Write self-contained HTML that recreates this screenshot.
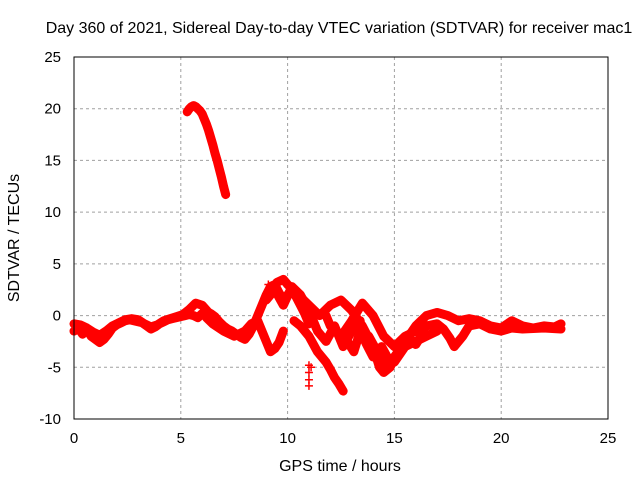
<!DOCTYPE html>
<html><head><meta charset="utf-8"><style>
body{margin:0;background:#fff}
svg{display:block;font-family:"Liberation Sans",sans-serif;font-size:15px}
</style></head><body>
<svg id="chart" width="640" height="480">
<rect width="640" height="480" fill="#fff"/>
<text x="339" y="33" text-anchor="middle" style="font-size:16px">Day 360 of 2021, Sidereal Day-to-day VTEC variation (SDTVAR) for receiver mac1</text>
<g id="grid"></g>
<g id="axes"></g>
<g id="marks"></g>
<rect x="74" y="57" width="534" height="362" fill="none" stroke="#000"/>
<text x="340" y="471" text-anchor="middle" style="font-size:16px">GPS time / hours</text>
<text transform="translate(19,238) rotate(-90)" text-anchor="middle" style="font-size:16px">SDTVAR / TECUs</text>
</svg>
<script>
const xTicks=[0,5,10,15,20,25];
const yTicks=[25,20,15,10,5,0,-5,-10];
const arcX=[5.3,5.4,5.5,5.6,5.7,5.8,5.9,6.0,6.1,6.2,6.3,6.4,6.5,6.6,6.7,6.8,6.9,7.0,7.1];
const arcY=[19.7,20.0,20.2,20.3,20.2,20.0,19.8,19.5,19.0,18.5,17.9,17.2,16.5,15.7,15.0,14.2,13.4,12.5,11.7];
const t1X=[0,0.2,0.4,0.6,0.8,1,1.2,1.4,1.6,1.8,2,2.2,2.4,2.6,2.8,3,3.2,3.4,3.6,3.8,4,4.2,4.4,4.6,4.8,5,5.2,5.4,5.6,5.8,6,6.2,6.4,6.6,6.8,7,7.2,7.4,7.6,7.8,8,8.2,8.4,8.6,8.8,9,9.2,9.4,9.6,9.8,10,10.2,10.4,10.6,10.8,11];
const t1Y=[-1.5,-1.2,-1.8,-1.3,-2,-2.3,-2.6,-2.3,-1.8,-1.2,-0.9,-0.7,-0.5,-0.4,-0.5,-0.6,-0.7,-1,-1.3,-1.1,-0.8,-0.6,-0.4,-0.3,-0.2,-0.1,0,0.1,0,-0.2,0.2,0.4,0.2,-0.1,-0.6,-1,-1.3,-1.5,-1.8,-2.1,-2.3,-1.8,-1,0,1,2,2.8,3,2.2,1.5,2,2.5,1.8,1,0.2,-0.8];
const t1bX=[0,0.3,0.6,0.9,1.2,1.5,1.8,2.1,2.4,2.7,3,3.3,3.6,3.9,4.2,4.5,4.8,5.1,5.4,5.7,6,6.3];
const t1bY=[-0.8,-0.9,-1.2,-1.6,-1.9,-1.5,-1,-0.7,-0.4,-0.3,-0.4,-0.8,-1.1,-0.9,-0.5,-0.3,-0.1,0.1,0.6,1.2,1.0,0.3];
const t2X=[6.2,6.5,7,7.5,8,8.3,8.6,9,9.2,9.4,9.6,9.8];
const t2Y=[-0.2,-0.8,-1.5,-2,-1.5,-0.8,-0.5,-2.5,-3.5,-3.2,-2.6,-1.5];
const t3X=[9.5,9.8,10,10.5,11,11.5,12,12.5,13,13.5,14,14.3,14.5,14.8,15,15.5,16,16.5,17,17.5,18,18.5,19,19.5,20,20.5,21,21.5,22,22.5,22.8];
const t3Y=[3.2,3.5,3,2,1,0,1,1.5,0.5,-1,-3,-5,-5.5,-5,-4,-2.5,-1,0,0.3,0,-0.5,-0.3,-0.5,-1,-1.2,-0.5,-1,-1.2,-1,-1.1,-0.8];
const t4X=[10.3,10.6,11,11.4,11.8,12,12.2,12.4,12.6];
const t4Y=[-0.5,-1,-2,-3.5,-4.5,-5.2,-6,-6.6,-7.3];
const t5X=[11.8,12,12.5,13,13.5,14,14.5,15,15.5,16,16.5,17,17.3,17.6,17.8,18.2,18.5,19,19.5,20,20.5,21,22,22.8];
const t5Y=[0,-1,-2,-0.5,1.2,0,-2,-3,-2,-1.5,-1,-0.8,-1.3,-2.2,-3,-2,-1,-0.8,-1.3,-1.5,-1.2,-1.3,-1.2,-1.3];
const t6X=[13.8,14.2,14.6,15,15.5,16,16.5,17];
const t6Y=[-2,-3.5,-4.8,-4.5,-3,-2.5,-2,-1.5];
const t8X=[9,9.4,9.8,10.2,10.6,11,11.4,11.8,12.2,12.6,13,13.4];
const t8Y=[1.5,2.5,1.0,2.8,2.0,0.5,-1.5,-2.5,-1.0,-3.0,-1.5,-0.5];
const t9X=[12.8,13.1,13.4,13.7,14,14.4,14.8,15.2,15.6,16,16.4];
const t9Y=[-2.5,-3.5,-1.5,-2.8,-4.0,-3.0,-4.5,-3.5,-2.0,-2.8,-1.5];
const t7X=[11,11,11,11,11.1,9.1,9.2];
const t7Y=[-4.8,-5.5,-6.2,-6.8,-5,3,2];
const series=[[arcX,arcY],[t1X,t1Y],[t1bX,t1bY],[t2X,t2Y],[t3X,t3Y],[t4X,t4Y],[t5X,t5Y],[t6X,t6Y],[t8X,t8Y],[t9X,t9Y]];
const NS='http://www.w3.org/2000/svg';
const sx=v=>74+v*534/25, sy=v=>419-(v+10)*362/35;
const grid=document.getElementById('grid'),axes=document.getElementById('axes'),marks=document.getElementById('marks');
function mk(tag,a,p){const e=document.createElementNS(NS,tag);for(const k in a)e.setAttribute(k,a[k]);p.appendChild(e);return e;}
xTicks.forEach(t=>{const x=sx(t);
 if(t>0&&t<25){const g=mk('line',{x1:x,x2:x,y1:57,y2:419,stroke:'#a0a0a0','stroke-dasharray':'3,3'},grid);
 
 }
 const l=mk('text',{x:x,y:443,'text-anchor':'middle'},axes);l.textContent=t;
 
 });
yTicks.forEach(t=>{const y=sy(t);
 if(t>-10&&t<25){const g=mk('line',{x1:74,x2:608,y1:y,y2:y,stroke:'#a0a0a0','stroke-dasharray':'3,3'},grid);
 
 }
 const l=mk('text',{x:61,y:y+5,'text-anchor':'end'},axes);l.textContent=t;
 
 });
series.forEach(([xs,ys])=>{
 const pts=xs.map((x,i)=>sx(x)+','+sy(ys[i])).join(' ');
 const pl=mk('polyline',{points:pts,fill:'none',stroke:'#f00','stroke-width':9,'stroke-linejoin':'round','stroke-linecap':'round'},marks);
 
 
 xs.forEach((x,i)=>{const cx=sx(x),cy=sy(ys[i]);
  const p=mk('path',{d:`M${cx-4},${cy}h8M${cx},${cy-4}v8`,stroke:'#f00','stroke-width':1.5},marks);
  
  });
});
t7X.forEach((x,i)=>{const cx=sx(x),cy=sy(t7Y[i]);
 const p=mk('path',{d:`M${cx-4},${cy}h8M${cx},${cy-4}v8`,stroke:'#f00','stroke-width':1.5},marks);
 
 });
</script>
</body></html>
